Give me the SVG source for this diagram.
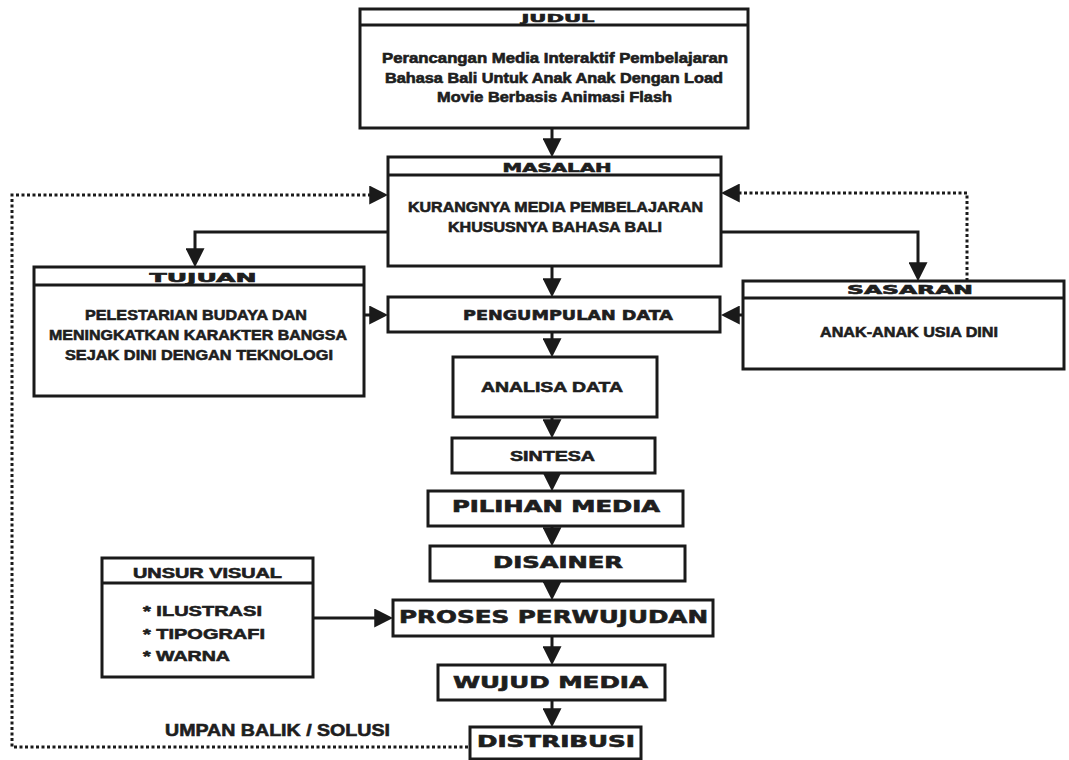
<svg xmlns="http://www.w3.org/2000/svg" width="1069" height="760" viewBox="0 0 1069 760">
<style>
.box{fill:#fff;stroke:#1a1a1a;stroke-width:3}
.hl{stroke:#1a1a1a;stroke-width:3}
.t{font-family:"Liberation Sans",Arial,sans-serif;font-weight:bold;fill:#1e1e1e;stroke:#1e1e1e;stroke-width:0.6;text-anchor:middle}
.tl{font-family:"Liberation Sans",Arial,sans-serif;font-weight:bold;fill:#1e1e1e;stroke:#1e1e1e;stroke-width:0.6}
.w{font-family:"DejaVu Sans","Liberation Sans",sans-serif;font-weight:bold;fill:#1e1e1e;stroke:#1e1e1e;stroke-width:0.6;text-anchor:middle}
.c{fill:none;stroke:#1a1a1a;stroke-width:3}
.d{fill:none;stroke:#1a1a1a;stroke-width:3;stroke-dasharray:3 2.5}
</style>
<defs>
<marker id="ah" viewBox="0 0 18 18" refX="14" refY="9" markerWidth="19" markerHeight="19" markerUnits="userSpaceOnUse" orient="auto">
<path d="M0,0 L18,9 L0,18 Z" fill="#1a1a1a"/>
</marker>
</defs>
<rect width="1069" height="760" fill="#fff"/>

<g id="connectors">
<line class="c" x1="552" y1="128" x2="552" y2="153" marker-end="url(#ah)"/>
<polyline class="c" points="388,232 195,232 195,263" marker-end="url(#ah)"/>
<polyline class="c" points="721,232 918,232 918,277" marker-end="url(#ah)"/>
<line class="c" x1="552" y1="266" x2="552" y2="293" marker-end="url(#ah)"/>
<line class="c" x1="364" y1="315" x2="384" y2="315" marker-end="url(#ah)"/>
<line class="c" x1="743" y1="315" x2="725" y2="315" marker-end="url(#ah)"/>
<line class="c" x1="552" y1="332" x2="552" y2="353" marker-end="url(#ah)"/>
<line class="c" x1="552" y1="417" x2="552" y2="434" marker-end="url(#ah)"/>
<line class="c" x1="552" y1="473" x2="552" y2="487" marker-end="url(#ah)"/>
<line class="c" x1="552" y1="526" x2="552" y2="542" marker-end="url(#ah)"/>
<line class="c" x1="552" y1="581" x2="552" y2="596" marker-end="url(#ah)"/>
<line class="c" x1="552" y1="636" x2="552" y2="661" marker-end="url(#ah)"/>
<line class="c" x1="552" y1="700" x2="552" y2="723" marker-end="url(#ah)"/>
<line class="c" x1="313" y1="618" x2="389" y2="618" marker-end="url(#ah)"/>
<polyline class="d" points="468,747 12,747 12,195 384,195" marker-end="url(#ah)"/>
<polyline class="d" points="967,281 967,193 725,193" marker-end="url(#ah)"/>
<text class="tl" x="165" y="736" font-size="17" textLength="225" lengthAdjust="spacingAndGlyphs">UMPAN BALIK / SOLUSI</text>
</g>

<g id="judul">
<rect class="box" x="360" y="9" width="388" height="119"/>
<line class="hl" x1="360" y1="25" x2="748" y2="25"/>
<text class="w" x="558" y="21.5" font-size="11" textLength="73" lengthAdjust="spacingAndGlyphs">JUDUL</text>
<text class="t" x="555" y="63" font-size="14" textLength="346" lengthAdjust="spacingAndGlyphs">Perancangan Media Interaktif Pembelajaran</text>
<text class="t" x="554" y="82.5" font-size="14" textLength="338" lengthAdjust="spacingAndGlyphs">Bahasa Bali Untuk Anak Anak Dengan Load</text>
<text class="t" x="554.5" y="102" font-size="14" textLength="235" lengthAdjust="spacingAndGlyphs">Movie Berbasis Animasi Flash</text>
</g>

<g id="masalah">
<rect class="box" x="388" y="157" width="333" height="109"/>
<line class="hl" x1="388" y1="175" x2="721" y2="175"/>
<text class="w" x="557" y="171.5" font-size="12" textLength="109" lengthAdjust="spacingAndGlyphs">MASALAH</text>
<text class="t" x="555.5" y="211.5" font-size="15" textLength="295" lengthAdjust="spacingAndGlyphs">KURANGNYA MEDIA PEMBELAJARAN</text>
<text class="t" x="555" y="231.5" font-size="15" textLength="214" lengthAdjust="spacingAndGlyphs">KHUSUSNYA BAHASA BALI</text>
</g>

<g id="tujuan">
<rect class="box" x="34" y="267" width="330" height="129"/>
<line class="hl" x1="34" y1="285" x2="364" y2="285"/>
<text class="w" x="203" y="281.5" font-size="12" textLength="107" lengthAdjust="spacingAndGlyphs">TUJUAN</text>
<text class="t" x="196" y="320" font-size="15" textLength="222" lengthAdjust="spacingAndGlyphs">PELESTARIAN BUDAYA DAN</text>
<text class="t" x="198" y="340" font-size="15" textLength="298" lengthAdjust="spacingAndGlyphs">MENINGKATKAN KARAKTER BANGSA</text>
<text class="t" x="199" y="360" font-size="15" textLength="268" lengthAdjust="spacingAndGlyphs">SEJAK DINI DENGAN TEKNOLOGI</text>
</g>

<g id="sasaran">
<rect class="box" x="743" y="281" width="321" height="88"/>
<line class="hl" x1="743" y1="298" x2="1064" y2="298"/>
<text class="w" x="910" y="294" font-size="12" textLength="126" lengthAdjust="spacingAndGlyphs">SASARAN</text>
<text class="t" x="909" y="337" font-size="15" textLength="178" lengthAdjust="spacingAndGlyphs">ANAK-ANAK USIA DINI</text>
</g>

<g id="pengumpulan">
<rect class="box" x="388" y="297" width="332" height="35"/>
<text class="w" x="568" y="319.5" font-size="14" textLength="210" lengthAdjust="spacingAndGlyphs">PENGUMPULAN DATA</text>
</g>

<g id="analisa">
<rect class="box" x="453" y="357" width="204" height="60"/>
<text class="t" x="552" y="392" font-size="15" textLength="142" lengthAdjust="spacingAndGlyphs">ANALISA DATA</text>
</g>

<g id="sintesa">
<rect class="box" x="452" y="438" width="203" height="35"/>
<text class="t" x="552.5" y="460.5" font-size="15" textLength="85" lengthAdjust="spacingAndGlyphs">SINTESA</text>
</g>

<g id="pilihan">
<rect class="box" x="428" y="491" width="255" height="35"/>
<text class="w" x="556" y="512" font-size="15" textLength="208" lengthAdjust="spacingAndGlyphs">PILIHAN MEDIA</text>
</g>

<g id="disainer">
<rect class="box" x="430" y="546" width="255" height="35"/>
<text class="w" x="558" y="567.5" font-size="15" textLength="130" lengthAdjust="spacingAndGlyphs">DISAINER</text>
</g>

<g id="proses">
<rect class="box" x="393" y="600" width="320" height="36"/>
<text class="w" x="553.5" y="623" font-size="17" textLength="309" lengthAdjust="spacingAndGlyphs">PROSES PERWUJUDAN</text>
</g>

<g id="wujud">
<rect class="box" x="438" y="665" width="227" height="35"/>
<text class="w" x="550.5" y="687.5" font-size="16" textLength="195" lengthAdjust="spacingAndGlyphs">WUJUD MEDIA</text>
</g>

<g id="distribusi">
<rect class="box" x="470" y="727" width="171" height="32"/>
<text class="w" x="556" y="746.5" font-size="15" textLength="158" lengthAdjust="spacingAndGlyphs">DISTRIBUSI</text>
</g>

<g id="unsur-visual">
<rect class="box" x="102" y="558" width="211" height="119"/>
<line class="hl" x1="102" y1="583" x2="313" y2="583"/>
<text class="t" x="207.5" y="577.5" font-size="14" textLength="149" lengthAdjust="spacingAndGlyphs">UNSUR VISUAL</text>
<text class="tl" x="143" y="615.5" font-size="15" textLength="119" lengthAdjust="spacingAndGlyphs">* ILUSTRASI</text>
<text class="tl" x="143" y="638.5" font-size="15" textLength="122" lengthAdjust="spacingAndGlyphs">* TIPOGRAFI</text>
<text class="tl" x="143" y="661" font-size="15" textLength="87" lengthAdjust="spacingAndGlyphs">* WARNA</text>
</g>
</svg>
